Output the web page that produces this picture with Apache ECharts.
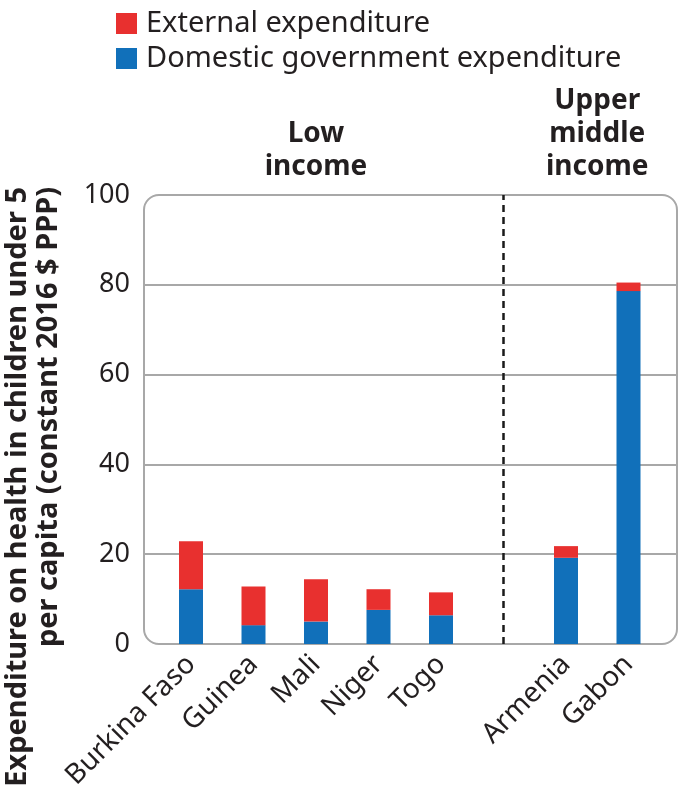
<!DOCTYPE html>
<html><head><meta charset="utf-8">
<script src="https://cdn.jsdelivr.net/npm/echarts@6/dist/echarts.min.js"></script>
<style>html,body{margin:0;padding:0;background:#fff}#c{width:679px;height:797px}</style>
</head><body><div id="c"></div>
<script>
// ---- data ----
const categories = ['Burkina Faso', 'Guinea', 'Mali', 'Niger', 'Togo', '', 'Armenia', 'Gabon'];
const domestic = [12.2, 4.2, 5.0, 7.6, 6.4, null, 19.2, 78.6];
const external = [10.7, 8.6, 9.4, 4.6, 5.1, null, 2.6, 1.9];
const yMin = 0, yMax = 100, yInterval = 20;
const groupLabels = ['Low\nincome', 'Upper\nmiddle\nincome'];
const groupMembers = [[0, 1, 2, 3, 4], [6, 7]];
const separatorIndex = 5;
const yTitle = 'Expenditure on health in children under 5\nper capita (constant 2016 $ PPP)';
const legendNames = ['External expenditure', 'Domestic government expenditure'];

(function () {
// ---- style ----
const FONT = '"Noto Sans", sans-serif';
const INK = '#231f20';
const GRIDC = '#a8a8a8';
const RED = '#e8302f';
const BLUE = '#1170ba';

const chart = echarts.init(document.getElementById('c'), null, {renderer: 'canvas'});
const gridA = {left: 144, right: 2, top: 195, bottom: 153};
const gridB = {left: 159.75, right: 19.25, top: 195, bottom: 153};

chart.setOption({
  animation: false,
  textStyle: {fontFamily: FONT},
  legend: {
    data: legendNames,
    orient: 'vertical',
    left: 111, top: 4,
    itemWidth: 21, itemHeight: 21, itemGap: 6,
    icon: 'rect',
    textStyle: {fontSize: 29, lineHeight: 28, color: INK, fontFamily: FONT, padding: [0, 0, 0, 4]}
  },
  grid: [gridA, gridB],
  xAxis: [
    {gridIndex: 0, type: 'value', min: 0, max: 1, show: false},
    {gridIndex: 1, type: 'category', data: categories,
     axisLine: {show: false}, axisTick: {show: false},
     axisLabel: {interval: 0, rotate: 45, fontSize: 28, color: INK, margin: 16, fontFamily: FONT}}
  ],
  yAxis: [
    {gridIndex: 0, type: 'value', min: yMin, max: yMax, interval: yInterval,
     axisLine: {show: false}, axisTick: {show: false},
     axisLabel: {fontSize: 27, color: INK, margin: 14, fontFamily: FONT},
     splitLine: {show: true, showMinLine: false, showMaxLine: false, lineStyle: {color: GRIDC, width: 2}}},
    {gridIndex: 1, type: 'value', min: yMin, max: yMax, interval: yInterval, show: false, splitLine: {show: false}}
  ],
  series: [
    {name: 'Domestic government expenditure', type: 'bar', xAxisIndex: 1, yAxisIndex: 1, stack: 'total',
     data: domestic, barWidth: 24, itemStyle: {color: BLUE},
     markLine: {silent: true, symbol: 'none', label: {show: false},
       lineStyle: {color: '#1a1a1a', type: [7, 5], width: 2.5},
       data: [{xAxis: separatorIndex}]}},
    {name: 'External expenditure', type: 'bar', xAxisIndex: 1, yAxisIndex: 1, stack: 'total',
     data: external, barWidth: 24, itemStyle: {color: RED}}
  ]
});

// decorations placed from the axes' own scales
const pTop = chart.convertToPixel({yAxisIndex: 0}, yMax);
const pBottom = chart.convertToPixel({yAxisIndex: 0}, yMin);
const pLeft = chart.convertToPixel({xAxisIndex: 0}, 0);
const pRight = chart.convertToPixel({xAxisIndex: 0}, 1);
const graphics = [{
  type: 'rect', z: 0, silent: true,
  shape: {x: pLeft, y: pTop, width: pRight - pLeft, height: pBottom - pTop, r: 15},
  style: {fill: 'none', stroke: GRIDC, lineWidth: 2}
}];
groupLabels.forEach(function (lab, i) {
  const xs = groupMembers[i].map(function (k) { return chart.convertToPixel({xAxisIndex: 1}, k); });
  const cx = (Math.min.apply(null, xs) + Math.max.apply(null, xs)) / 2;
  graphics.push({
    type: 'text', silent: true, x: cx, y: 184,
    style: {text: lab, fontFamily: FONT, fontSize: 28, fontWeight: 'bold', fill: INK,
      align: 'center', verticalAlign: 'bottom', textAlign: 'center', textVerticalAlign: 'bottom', lineHeight: 33}
  });
});
graphics.push({
  type: 'text', silent: true, x: 2, y: 187, rotation: Math.PI / 2,
  style: {text: yTitle, fontFamily: FONT, fontSize: 29, fontWeight: 'bold', fill: INK,
    align: 'right', verticalAlign: 'top', textAlign: 'right', textVerticalAlign: 'top', lineHeight: 31}
});
chart.setOption({graphic: graphics});
})();
</script>
</body></html>
